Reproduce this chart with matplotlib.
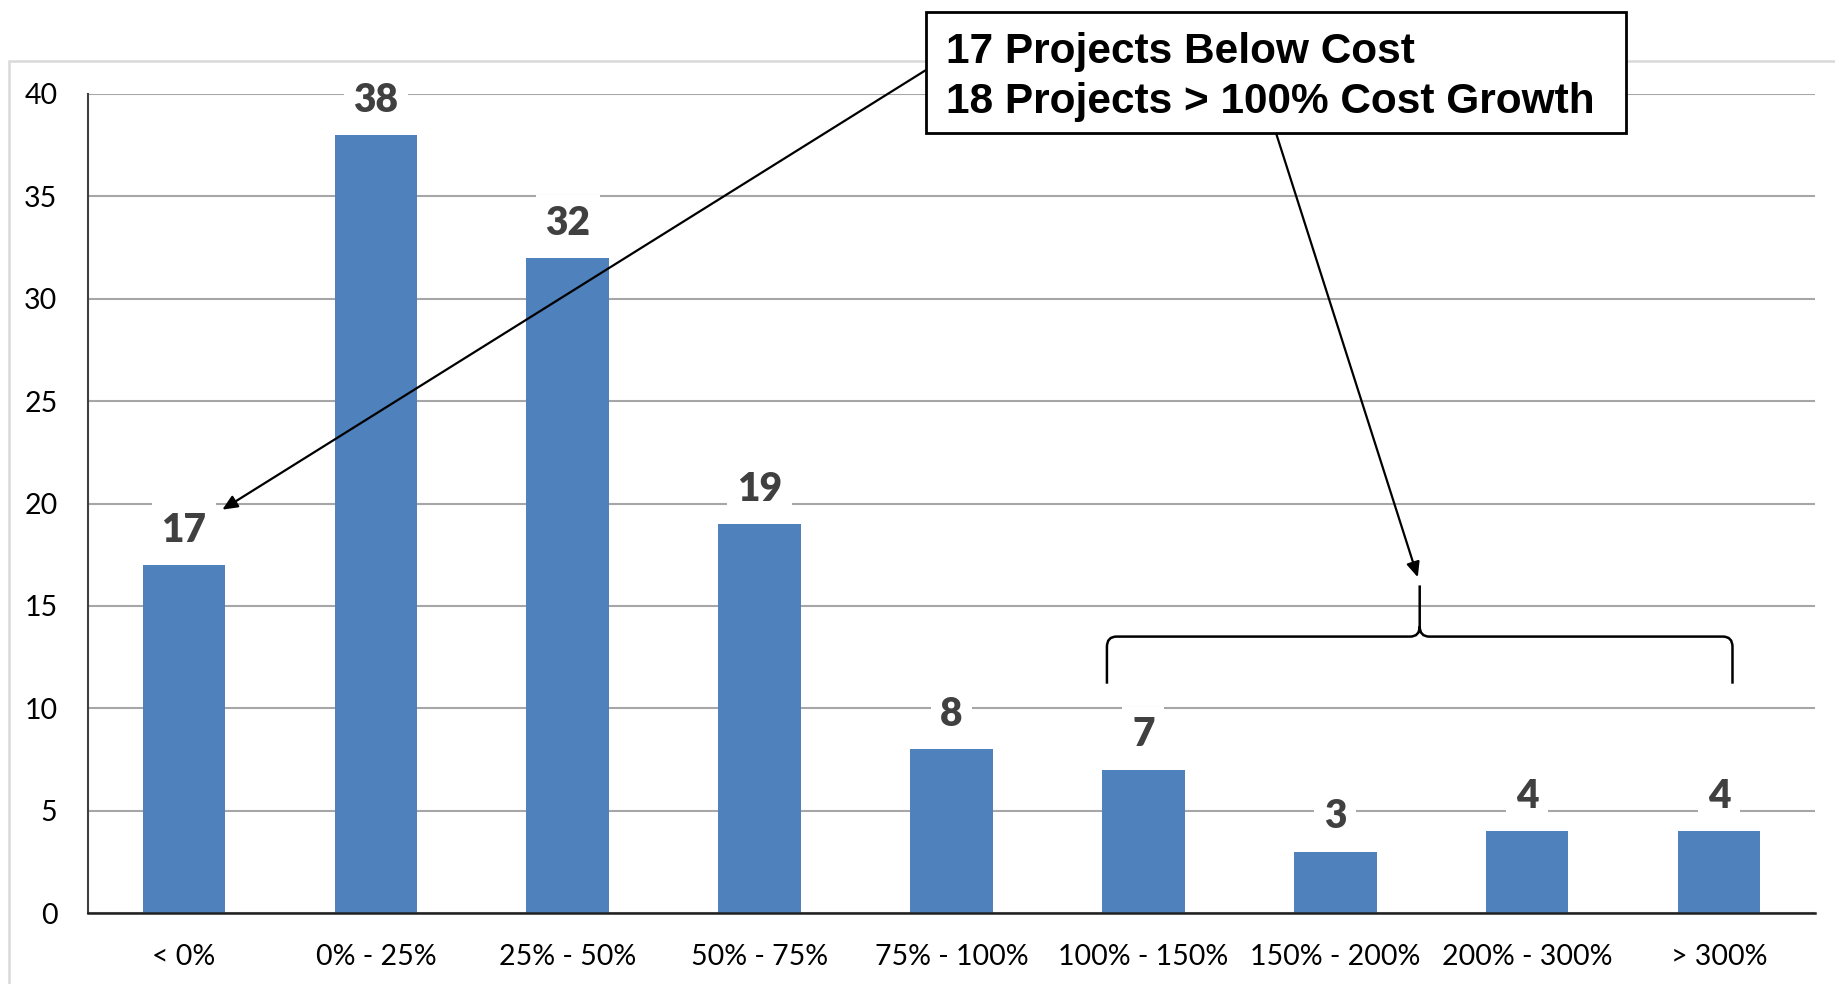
import matplotlib
matplotlib.use("Agg")
import matplotlib.pyplot as plt
from matplotlib.path import Path
from matplotlib.patches import PathPatch, Rectangle

categories = ["< 0%", "0% - 25%", "25% - 50%", "50% - 75%", "75% - 100%",
              "100% - 150%", "150% - 200%", "200% - 300%", "> 300%"]
counts = [17, 38, 32, 19, 8, 7, 3, 4, 4]
yticks = [0, 5, 10, 15, 20, 25, 30, 35, 40]
box_lines = ["17 Projects Below Cost", "18 Projects > 100% Cost Growth"]

W, H = 1835, 984
fig = plt.figure(figsize=(W / 100, H / 100), dpi=100)
fig.patch.set_facecolor("white")

# outer chart frame
fig.patches.append(Rectangle((9 / W, -0.05), 1.2, 1 - 61 / H + 0.05,
                             transform=fig.transFigure, fill=False,
                             ec="#d9d9d9", lw=1.8, zorder=0))

ax = fig.add_axes([88 / W, 1 - 913 / H, (1815 - 88) / W, (913 - 94) / H])
ax.set_facecolor("none")

x = list(range(len(categories)))
ax.bar(x, counts, width=0.43, color="#4F81BD", zorder=2)

ax.set_xlim(-0.5, len(categories) - 0.5)
ax.set_ylim(0, 40)
ax.set_yticks(yticks)
ax.set_xticks(x)
ax.set_xticklabels(categories)
ax.yaxis.grid(True, color="#a6a6a6", lw=1.5, zorder=0)
ax.set_axisbelow(True)
for s in ["top", "right"]:
    ax.spines[s].set_visible(False)
ax.spines["left"].set_color("#404040")
ax.spines["left"].set_linewidth(1.5)
ax.spines["bottom"].set_color("#202020")
ax.spines["bottom"].set_linewidth(1.8)
ax.tick_params(axis="both", length=0, labelsize=20.5, colors="#000000")
ax.tick_params(axis="y", pad=22)
ax.tick_params(axis="x", pad=22)
for lab in ax.get_xticklabels() + ax.get_yticklabels():
    lab.set_fontfamily(["Lato", "DejaVu Sans"])

for xi, v in zip(x, counts):
    ax.annotate(str(v), (xi, v), xytext=(0, 25), textcoords="offset points",
                ha="center", va="center", fontsize=28, fontweight="heavy",
                color="#404040", family=["Lato", "DejaVu Sans"], zorder=3,
                bbox=dict(boxstyle="square,pad=0.25", fc="white", ec="none"))

# callout box
fig.patches.append(Rectangle((926 / W, 1 - 133 / H), (1626 - 926) / W, (133 - 12) / H,
                             transform=fig.transFigure, fc="white", ec="black",
                             lw=2, zorder=5))
for i, line in enumerate(box_lines):
    fig.text(946 / W, 1 - (52 + 50 * i) / H, line, ha="left", va="center",
             fontsize=30.5, fontweight="bold", color="black",
             family=["Liberation Sans", "DejaVu Sans"],
             zorder=6)

arrow_kw = dict(arrowstyle="-|>,head_length=0.9,head_width=0.4", color="black",
                lw=1.6, shrinkA=0, shrinkB=0)
ax.annotate("", xy=(0.2, 19.7), xycoords="data",
            xytext=(926 / W, 1 - 70 / H), textcoords="figure fraction",
            arrowprops=arrow_kw, annotation_clip=False, zorder=4)
ax.annotate("", xy=(6.43, 16.4), xycoords="data",
            xytext=(1276 / W, 1 - 133 / H), textcoords="figure fraction",
            arrowprops=arrow_kw, annotation_clip=False, zorder=4)

# brace
xl, xr, xm = 4.81, 8.07, 6.44
yb, yh, yt = 11.2, 13.5, 16.0
dx, dy = 0.05, 0.5
verts = [
    (xl, yb), (xl, yh - dy), (xl, yh), (xl + dx, yh),
    (xm - dx, yh), (xm, yh), (xm, yh + dy), (xm, yt),
    (xm, yh + dy), (xm, yh), (xm + dx, yh),
    (xr - dx, yh), (xr, yh), (xr, yh - dy), (xr, yb),
]
codes = [
    Path.MOVETO, Path.LINETO, Path.CURVE3, Path.CURVE3,
    Path.LINETO, Path.CURVE3, Path.CURVE3, Path.LINETO,
    Path.MOVETO, Path.CURVE3, Path.CURVE3,
    Path.LINETO, Path.CURVE3, Path.CURVE3, Path.LINETO,
]
ax.add_patch(PathPatch(Path(verts, codes), fill=False, ec="black", lw=1.8,
                       zorder=4, clip_on=False))

fig.savefig("out.png", dpi=100, facecolor="white")
